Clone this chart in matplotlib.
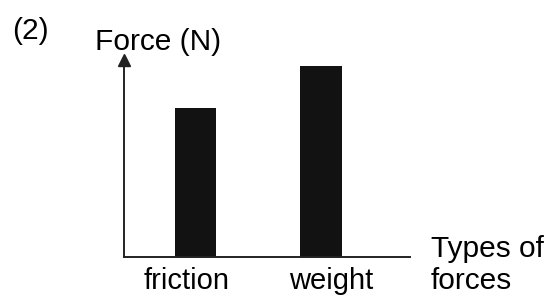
import matplotlib
matplotlib.use("Agg")
import matplotlib.pyplot as plt

# forces shown in the bar chart (relative sizes)
forces = ["friction", "weight"]
force_values = [7.8, 10.0]

plt.rcParams["font.family"] = ["Liberation Sans", "DejaVu Sans"]

W, H = 555, 297
fig = plt.figure(figsize=(W / 100, H / 100), dpi=100)

# axes box in pixels: y axis at x=124, baseline at y=257, arrow tip at y=60
left, right, base, tip = 124, 410, 257, 60
ax = fig.add_axes([left / W, (H - base) / H, (right - left) / W, (base - tip) / H])

pos = [0, 1]
ax.bar(pos, force_values, width=0.33, color="#121212")
ax.set_xlim(-0.57, 1.71)
ax.set_ylim(0, 10.31)

for s in ["top", "right"]:
    ax.spines[s].set_visible(False)
for s in ["left", "bottom"]:
    ax.spines[s].set_linewidth(1.4)
    ax.spines[s].set_color("#222222")

ax.set_yticks([])
# labels sit a little off the bar centres in the original
ax.set_xticks([pos[0] - 0.07, pos[1] + 0.08])
ax.set_xticklabels(forces, fontsize=21)
ax.tick_params(axis="x", length=0, pad=7)

# arrow head on the y axis
ax.plot([-0.57], [10.31], marker="^", markersize=8, color="#222222", clip_on=False)

fig.text(12 / W, 1 - 31 / H, "(2)", fontsize=21.5, ha="left", va="center")
fig.text(95 / W, 1 - 42 / H, "Force (N)", fontsize=21.5, ha="left", va="center")
fig.text(431 / W, 1 - 265 / H, "Types of\nforces", fontsize=21.5, ha="left",
         va="center", linespacing=1.2)

fig.savefig("out.png", dpi=100)
